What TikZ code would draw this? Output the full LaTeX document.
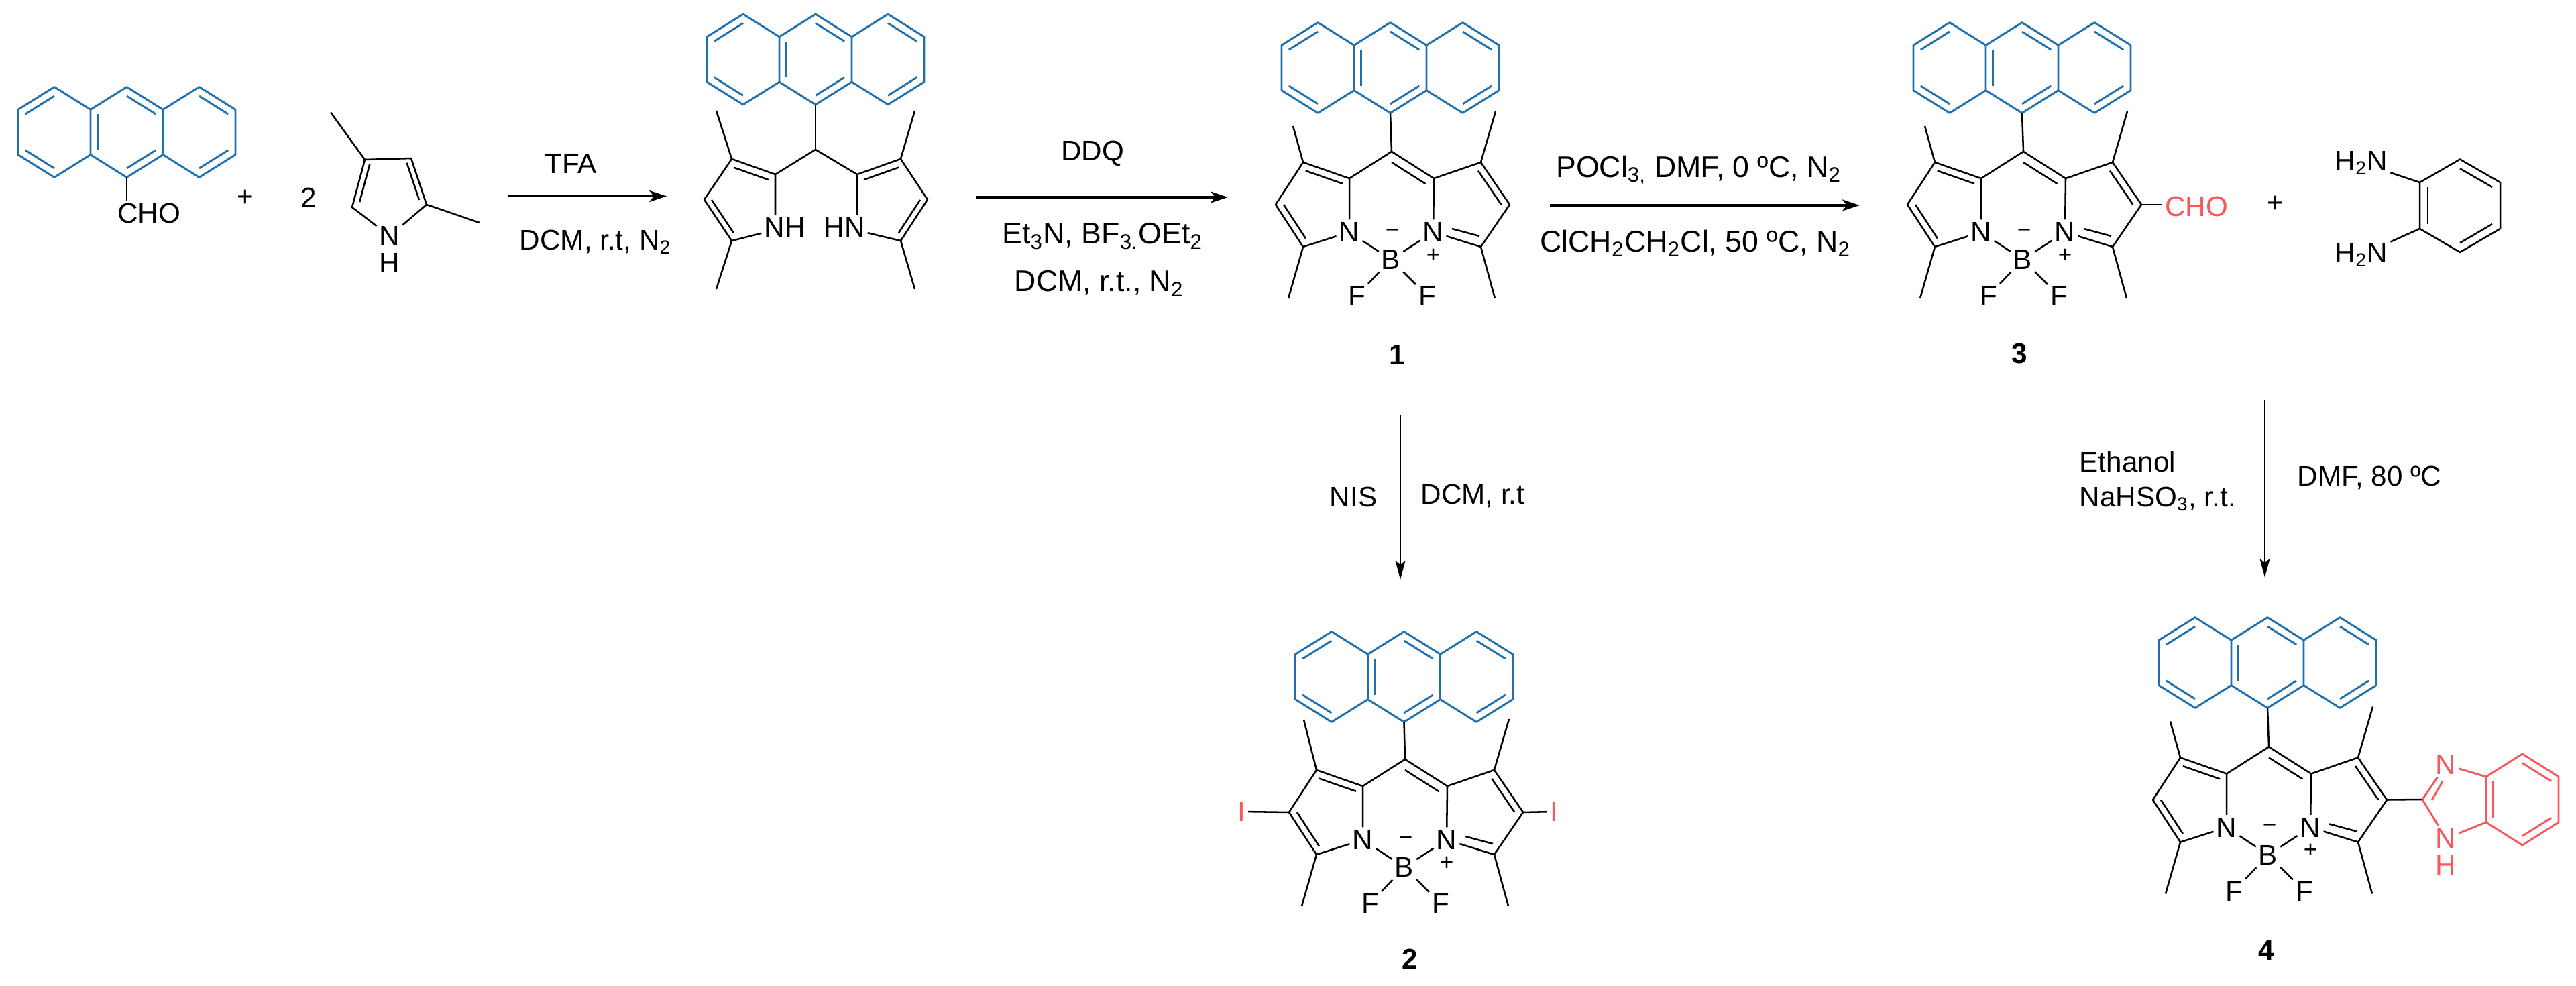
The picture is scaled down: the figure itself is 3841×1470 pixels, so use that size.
\documentclass[tikz,border=0pt]{standalone}
\usepackage{fontspec}
\setmainfont{Liberation Sans}
\usetikzlibrary{arrows.meta,calc}
\definecolor{antblue}{HTML}{1F70AE}
\definecolor{hetred}{HTML}{F9575C}
\tikzset{
	bond/.style={line width=0.72pt,line join=round},
	antbond/.style={line width=0.82pt,color=antblue,line join=round},
	hetbond/.style={line width=0.82pt,color=hetred,line join=round},
	atom/.style={inner sep=1pt,font=\fontsize{12}{14}\selectfont},
	charge/.style={inner sep=0pt,font=\fontsize{10}{12}\selectfont},
	reagent/.style={inner sep=0pt,font=\fontsize{12}{14}\selectfont},
	widereagent/.style={inner sep=0pt,font=\fontsize{12.7}{14}\selectfont},
	compound/.style={inner sep=0pt,font=\fontsize{12}{14}\selectfont\bfseries},
	rxn/.style={line width=0.95pt,-{Stealth[length=0.26cm,width=0.17cm,inset=0.07cm]}},
	rxndown/.style={line width=0.6pt,-{Stealth[length=0.28cm,width=0.15cm,inset=0.06cm]}}
}
\newcommand{\dbl}[4][bond]{\draw[#1] ($(#2)!.2!(#4)$) -- ($(#3)!.2!(#4)$);}
\newcommand{\anthra}[2]{
	\begin{scope}[shift={(#2)}]
		\foreach \n/\x/\y in {a/-162/-33.7,b/-108/-67.4,c/-54/-33.7,d/0/-67.4,e/54/-33.7,f/108/-67.4,g/162/-33.7,h/162/33.7,i/108/67.4,j/54/33.7,k/0/67.4,l/-54/33.7,m/-108/67.4,n/-162/33.7,L/-108/0,M/0/0,R/108/0}
		\coordinate (#1\n) at (\x,\y);
		\draw[antbond] (#1a)--(#1b)--(#1c)--(#1d)--(#1e)--(#1f)--(#1g)--(#1h)--(#1i)--(#1j)--(#1k)--(#1l)--(#1m)--(#1n)--cycle (#1c)--(#1l) (#1e)--(#1j);
		\foreach \p/\q/\r in {a/b/L,n/m/L,c/l/M,d/e/M,k/j/M,f/g/R,i/h/R}
		{\dbl[antbond]{#1\p}{#1\q}{#1\r}}
	\end{scope}
}
\newcommand{\bodipy}[3]{
	\begin{scope}[shift={(#2)}]
		\foreach \n/\x/\y in {m/0/0,a/-63/40,b/-132/16,c/-173/79,d/-132/142,e/63/40,f/133/16,g/176/79,h/133/142,p/155/-60,q/-154/219,s/154/219,u/-113/79,v/113/79,w/0/80,i/90/115,j/131/126}
		\coordinate (#1\n) at (\x,\y);
		\coordinate (#1o) at (#3);
		\node[atom] (#1N) at (-63,120) {N};
		\node[atom] (#1Np) at (62,120) {N};
		\node[atom] (#1B) at (-1,161) {B};
		\node[atom] (#1F) at (-52,215) {F};
		\node[atom] (#1Fp) at (53,215) {F};
		\node[charge] (#1neg) at (1,122) {−};
		\node[charge] (#1pos) at (62,155) {+};
		\draw[bond] (#1N)--(#1a)--(#1m)--(#1e)--(#1Np)--(#1h)--(#1g)--(#1f)--(#1e) (#1a)--(#1b)--(#1c)--(#1d)--(#1N);
		\draw[bond] (#1b)--(#1o) (#1f)--(#1p) (#1d)--(#1q) (#1h)--(#1s);
		\draw[bond] (#1N)--(#1B) (#1Np)--(#1B) (#1B)--(#1F) (#1B)--(#1Fp) (#1i)--(#1j);
		\foreach \p/\q/\r in {b/a/u,c/d/u,m/e/w,f/g/v}
		{\dbl{#1\p}{#1\q}{#1\r}}
	\end{scope}
}
\begin{document}
\begin{tikzpicture}[x=0.01cm,y=-0.01cm]
	\useasboundingbox (0,0) rectangle (3841,1470);
	% aldehyde + pyrrole
	\anthra{ald}{189,197}
	\node[atom] (aldcho) at (222,318) {CHO};
	\draw[bond] (aldk) -- (aldk |- aldcho.north);
	\node[reagent] (plusa) at (366,295) {+};
	\node[reagent] (two) at (460,295) {2};
	\foreach \n/\x/\y in {a/525/309,b/544/238,c/613/236,d/636/305,e/493/167.5,f/715/332,g/581/270}
	\coordinate (pyr\n) at (\x,\y);
	\node[atom] (pyrN) at (581,352) {N};
	\node[atom] (pyrH) at (581,392) {H};
	\draw[bond] (pyrN)--(pyra)--(pyrb)--(pyrc)--(pyrd)--(pyrN) (pyrb)--(pyre) (pyrd)--(pyrf);
	\dbl{pyra}{pyrb}{pyrg}
	\dbl{pyrc}{pyrd}{pyrg}
	
	\coordinate (tfas) at (758,292.5);
	\coordinate (tfae) at (994,292.5);
	\draw[rxn] (tfas) -- (tfae);
	\node[reagent] (tfa) at (851,244) {TFA};
	\node[reagent] (tfab) at (888,361) {DCM, r.t, N\textsubscript{2}};
	
	% dipyrromethane
	\anthra{dpa}{1216,88.5}
	\foreach \n/\x/\y in {m/1216/223,a/1156/260,b/1091/237,c/1050/297.5,d/1091/359,e/1278/260,f/1343/237,g/1383/297.5,h/1343/359,o/1068/165,p/1364/165,q/1068/431,s/1364/431,u/1105/300,v/1328/300}
	\coordinate (dp\n) at (\x,\y);
	\node[atom] (dpNH) at (1170,339) {NH};
	\node[atom] (dpHN) at (1259,339) {HN};
	\draw[bond] (dpak) -- (dpm);
	\draw[bond] (dpa |- dpNH.north)--(dpa)--(dpm)--(dpe)--(dpe |- dpHN.north) (dpa)--(dpb)--(dpc)--(dpd)--(dpNH) (dpe)--(dpf)--(dpg)--(dph)--(dpHN);
	\draw[bond] (dpb)--(dpo) (dpf)--(dpp) (dpd)--(dpq) (dph)--(dps);
	\foreach \p/\q/\r in {b/a/u,c/d/u,f/e/v,g/h/v}
	{\dbl{dp\p}{dp\q}{dp\r}}
	
	\coordinate (ddqs) at (1456,294);
	\coordinate (ddqe) at (1831,294);
	\draw[rxn] (ddqs) -- (ddqe);
	\node[reagent] (ddq) at (1629,229) {DDQ};
	\node[widereagent] (ddqb) at (1644,352) {Et\textsubscript{3}N, BF\textsubscript{3.}OEt\textsubscript{2}};
	\node[widereagent] (ddqc) at (1639,423) {DCM, r.t., N\textsubscript{2}};
	
	% compound 1
	\anthra{ca}{2073,101}
	\bodipy{ca}{2075,226}{-147,-38}
	\draw[bond] (cak) -- (cam);
	\node[compound] (numa) at (2083,529) {1};
	
	\coordinate (poas) at (2311,306);
	\coordinate (poae) at (2773,306);
	\draw[rxn] (poas) -- (poae);
	\node[widereagent] (poa) at (2533,254) {POCl\textsubscript{3,} DMF, 0 ºC, N\textsubscript{2}};
	\node[widereagent] (pob) at (2528,363) {ClCH\textsubscript{2}CH\textsubscript{2}Cl, 50 ºC, N\textsubscript{2}};
	
	% compound 3 + diamine
	\anthra{cc}{3015,101}
	\bodipy{cc}{3017,226}{-147,-38}
	\draw[bond] (cck) -- (ccm);
	\node[atom,text=hetred] (cccho) at (3275,308) {CHO};
	\draw[bond] (ccg) -- (ccg -| cccho.west);
	\node[compound] (numc) at (3011,527) {3};
	\node[reagent] (plusb) at (3393,304) {+};
	\foreach \n/\x/\y in {a/3608/272,b/3668/237.5,c/3728/272,d/3728/341,e/3668/376,f/3608/341,g/3668/306.5}
	\coordinate (dia\n) at (\x,\y);
	\draw[bond] (diaa)--(diab)--(diac)--(diad)--(diae)--(diaf)--cycle;
	\foreach \p/\q in {a/f,b/c,d/e}
	{\dbl{dia\p}{dia\q}{diag}}
	\node[atom] (diaNa) at (3521,243) {H\textsubscript{2}N};
	\node[atom] (diaNb) at (3521,380) {H\textsubscript{2}N};
	\draw[bond] (diaNa)--(diaa) (diaNb)--(diaf);
	
	% compound 2
	\coordinate (nisS) at (2088,619);
	\coordinate (nisE) at (2088,864);
	\draw[rxndown] (nisS) -- (nisE);
	\node[reagent] (nis) at (2018,741) {NIS};
	\node[reagent] (nisb) at (2196,739) {DCM, r.t};
	\anthra{cb}{2093.5,1009}
	\bodipy{cb}{2095,1132}{-151,-59}
	\draw[bond] (cbk) -- (cbm);
	\node[atom,text=hetred] (cbIa) at (1851,1210) {I};
	\node[atom,text=hetred] (cbIb) at (2317,1210) {I};
	\draw[bond] (cbc)--(cbIa) (cbg)--(cbIb);
	\node[compound] (numb) at (2102,1430) {2};
	
	% compound 4
	\coordinate (etos) at (3377,596);
	\coordinate (etoe) at (3377,861);
	\draw[rxndown] (etos) -- (etoe);
	\node[reagent,anchor=west] (eto) at (3100,688) {Ethanol};
	\node[reagent,anchor=west] (etob) at (3100,744) {NaHSO\textsubscript{3}, r.t.};
	\node[reagent] (etoc) at (3533,712) {DMF, 80 ºC};
	\anthra{cd}{3381,988}
	\bodipy{cd}{3383,1113.5}{-147,-38}
	\draw[bond] (cdk) -- (cdm);
	\foreach \n/\x/\y in {a/3612/1192,b/3707/1158,c/3761/1124,d/3815/1158,e/3815/1226,f/3761/1260,g/3707/1226,h/3761/1192,i/3626/1193,j/3642/1165}
	\coordinate (bim\n) at (\x,\y);
	\node[atom,text=hetred] (bimN) at (3647,1140) {N};
	\node[atom,text=hetred] (bimNH) at (3647,1250) {N};
	\node[atom,text=hetred] (bimH) at (3647,1290) {H};
	\draw[bond] (cdg) -- (bima);
	\draw[hetbond] (bimN)--(bima)--(bimNH)--(bimg)--(bimb)--(bimN) (bimb)--(bimc)--(bimd)--(bime)--(bimf)--(bimg) (bimi)--(bimj);
	\foreach \p/\q in {b/g,c/d,e/f}
	{\dbl[hetbond]{bim\p}{bim\q}{bimh}}
	\node[compound] (numd) at (3379,1417) {4};
\end{tikzpicture}
\end{document}
